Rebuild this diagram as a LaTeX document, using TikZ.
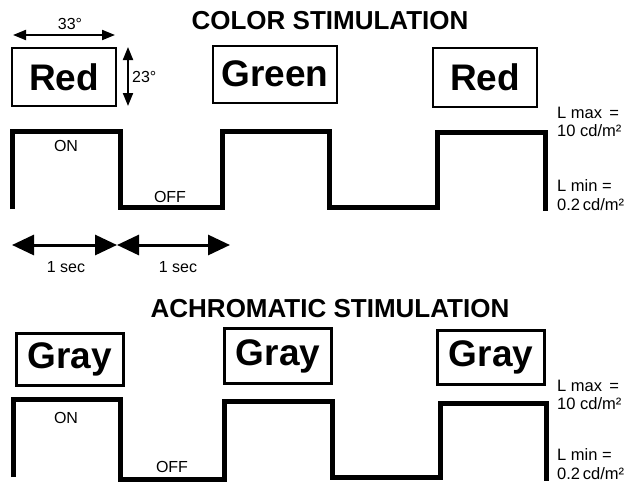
\documentclass[tikz,border=0pt]{standalone}
\usepackage{fontspec}
\setmainfont{Liberation Sans}
\usetikzlibrary{arrows.meta}
\tikzset{
  title/.style={font=\bfseries\fontsize{26}{28}\selectfont},
  word/.style={draw, line width=2pt, font=\bfseries\fontsize{37}{40}\selectfont, inner sep=0pt},
  grayword/.style={word, line width=3pt},
  small/.style={font=\fontsize{16}{18}\selectfont},
  side/.style={font=\fontsize{16.5}{18.5}\selectfont, align=left, anchor=west, inner sep=0pt},
  wave/.style={line width=5pt, line join=miter},
  secarrow/.style={line width=3pt, {Triangle[length=22pt,width=20pt]}-{Triangle[length=22pt,width=20pt]}},
  degarrow/.style={line width=2pt, {Triangle[length=13pt,width=10pt]}-{Triangle[length=13pt,width=10pt]}},
}
\begin{document}
\begin{tikzpicture}[x=1pt,y=-1pt]
\useasboundingbox (0,0) rectangle (630,485);

% ---------- colour stimulation ----------
\node[title] (t1) at (330,21) {COLOR STIMULATION};

\node[word, minimum width=104pt, minimum height=58pt] (r1) at (64,77) {Red};
\node[word, minimum width=124pt, minimum height=57pt] (g1) at (275,74) {Green};
\node[word, minimum width=104pt, minimum height=59pt] (r2) at (485,77) {Red};

% visual angle of the stimulus
\coordinate (h1) at (13,35);
\coordinate (h2) at (115,35);
\draw[degarrow] (h1) -- (h2);
\node[small] (h) at (70,24) {33°};
\coordinate (v1) at (128,47);
\coordinate (v2) at (128,106);
\draw[degarrow] (v1) -- (v2);
\node[small, anchor=west, inner sep=0pt] (v) at (132,77) {23°};

% luminance time course
\draw[wave] (12,209) -- (12,131) -- (120,131) -- (120,207) -- (222,207)
  -- (222,131) -- (329,131) -- (329,207) -- (437,207) -- (437,132)
  -- (545,132) -- (545,211);
\node[small] (on1) at (66,146) {ON};
\node[small] (off1) at (170,197) {OFF};

\node[side] (lmax1) at (557,122) {L max\, =\\10 cd/m²};
\node[side] (lmin1) at (557,195) {L min =\\0.2\,cd/m²};

% one-second periods
\coordinate (s1) at (12,245);
\coordinate (s2) at (117,245);
\coordinate (s3) at (230,245);
\draw[secarrow] (s1) -- (s2);
\draw[secarrow] (s2) -- (s3);
\node[small] (sec1) at (66,267) {1 sec};
\node[small] (sec2) at (178,267) {1 sec};

% ---------- achromatic stimulation ----------
\node[title] (t2) at (330,309) {ACHROMATIC STIMULATION};

\node[grayword, minimum width=107pt, minimum height=52pt] (gr1) at (69.5,359) {Gray};
\node[grayword, minimum width=107pt, minimum height=55pt] (gr2) at (278,356) {Gray};
\node[grayword, minimum width=107pt, minimum height=54pt] (gr3) at (491,357) {Gray};

\draw[wave] (13,477) -- (13,399) -- (120,399) -- (120,479) -- (224,479)
  -- (224,401) -- (332,401) -- (332,477) -- (440,477) -- (440,403)
  -- (546,403) -- (546,481);
\node[small] (on2) at (66,418) {ON};
\node[small] (off2) at (172,467) {OFF};

\node[side] (lmax2) at (557,395) {L max\, =\\10 cd/m²};
\node[side] (lmin2) at (557,464) {L min =\\0.2\,cd/m²};
\end{tikzpicture}
\end{document}
